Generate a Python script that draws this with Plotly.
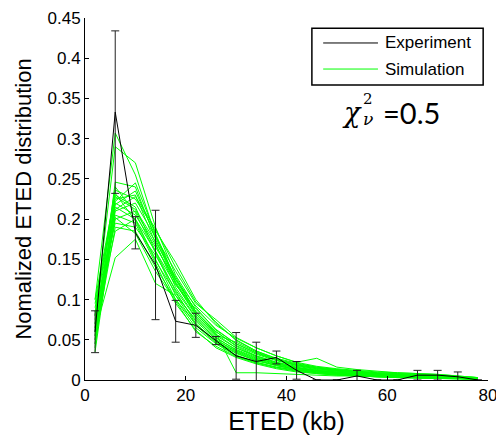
import plotly.graph_objects as go

x_vals = [2, 6, 10, 14, 18, 22, 26, 30, 34, 38, 42, 46, 50, 54, 58, 62, 66, 70, 74, 78]

exp_vals = [0.060, 0.333, 0.183, 0.143, 0.073, 0.068, 0.049, 0.030, 0.023, 0.028,
            0.012, 0.000, 0.000, 0.005, 0.000, 0.000, 0.006, 0.006, 0.004, 0.000]
exp_err = [0.026, 0.101, 0.020, 0.068, 0.026, 0.015, 0.005, 0.029, 0.024, 0.008,
           0.011, 0.000, 0.000, 0.007, 0.000, 0.000, 0.006, 0.006, 0.006, 0.000]

sim_1 = [0.100, 0.307, 0.255, 0.180, 0.125, 0.085, 0.060, 0.042, 0.030, 0.022, 0.017, 0.013, 0.011, 0.009, 0.007, 0.006, 0.005, 0.004, 0.003, 0.002]
sim_2 = [0.080, 0.290, 0.270, 0.190, 0.130, 0.090, 0.062, 0.045, 0.033, 0.025, 0.019, 0.015, 0.012, 0.010, 0.008, 0.006, 0.005, 0.004, 0.003, 0.002]
sim_3 = [0.050, 0.246, 0.240, 0.175, 0.120, 0.080, 0.055, 0.040, 0.030, 0.022, 0.016, 0.012, 0.010, 0.008, 0.006, 0.005, 0.004, 0.003, 0.003, 0.002]
sim_4 = [0.070, 0.236, 0.225, 0.185, 0.146, 0.100, 0.070, 0.050, 0.036, 0.026, 0.020, 0.016, 0.013, 0.011, 0.009, 0.008, 0.007, 0.006, 0.004, 0.003]
sim_5 = [0.040, 0.230, 0.215, 0.160, 0.110, 0.070, 0.048, 0.034, 0.024, 0.018, 0.013, 0.010, 0.008, 0.006, 0.005, 0.004, 0.003, 0.003, 0.002, 0.001]
sim_6 = [0.060, 0.225, 0.230, 0.170, 0.115, 0.078, 0.053, 0.037, 0.027, 0.020, 0.015, 0.012, 0.010, 0.008, 0.007, 0.006, 0.005, 0.004, 0.003, 0.002]
sim_7 = [0.090, 0.220, 0.205, 0.165, 0.125, 0.092, 0.068, 0.052, 0.040, 0.030, 0.022, 0.027, 0.016, 0.013, 0.011, 0.009, 0.008, 0.007, 0.005, 0.003]
sim_8 = [0.055, 0.215, 0.200, 0.150, 0.100, 0.065, 0.045, 0.030, 0.022, 0.016, 0.012, 0.009, 0.007, 0.006, 0.005, 0.004, 0.003, 0.002, 0.002, 0.001]
sim_9 = [0.075, 0.210, 0.220, 0.178, 0.135, 0.095, 0.075, 0.053, 0.040, 0.030, 0.022, 0.017, 0.014, 0.012, 0.010, 0.009, 0.008, 0.007, 0.005, 0.003]
sim_10 = [0.045, 0.205, 0.195, 0.145, 0.095, 0.062, 0.040, 0.028, 0.020, 0.014, 0.010, 0.008, 0.006, 0.005, 0.004, 0.003, 0.003, 0.002, 0.002, 0.001]
sim_11 = [0.065, 0.200, 0.210, 0.168, 0.120, 0.082, 0.057, 0.040, 0.029, 0.021, 0.015, 0.012, 0.009, 0.008, 0.006, 0.005, 0.005, 0.004, 0.003, 0.002]
sim_12 = [0.085, 0.195, 0.190, 0.155, 0.112, 0.077, 0.050, 0.036, 0.026, 0.019, 0.014, 0.011, 0.009, 0.007, 0.006, 0.005, 0.004, 0.004, 0.003, 0.002]
sim_13 = [0.050, 0.190, 0.185, 0.140, 0.100, 0.070, 0.047, 0.033, 0.024, 0.018, 0.013, 0.010, 0.008, 0.006, 0.005, 0.004, 0.003, 0.002, 0.002, 0.001]
sim_14 = [0.070, 0.185, 0.200, 0.160, 0.118, 0.088, 0.063, 0.045, 0.034, 0.025, 0.019, 0.015, 0.012, 0.010, 0.008, 0.007, 0.006, 0.005, 0.004, 0.003]
sim_15 = [0.060, 0.152, 0.175, 0.120, 0.105, 0.075, 0.052, 0.038, 0.028, 0.020, 0.015, 0.011, 0.009, 0.007, 0.005, 0.004, 0.003, 0.003, 0.002, 0.002]
sim_16 = [0.095, 0.228, 0.212, 0.172, 0.128, 0.085, 0.058, 0.009, 0.009, 0.008, 0.007, 0.006, 0.005, 0.005, 0.004, 0.004, 0.003, 0.003, 0.002, 0.001]
sim_17 = [0.045, 0.222, 0.245, 0.182, 0.125, 0.085, 0.060, 0.043, 0.032, 0.024, 0.018, 0.014, 0.012, 0.010, 0.008, 0.007, 0.006, 0.005, 0.004, 0.002]
sim_18 = [0.080, 0.240, 0.208, 0.158, 0.105, 0.068, 0.046, 0.031, 0.022, 0.016, 0.012, 0.009, 0.007, 0.005, 0.004, 0.003, 0.003, 0.002, 0.002, 0.001]
sim_19 = [0.035, 0.212, 0.228, 0.188, 0.140, 0.097, 0.072, 0.049, 0.036, 0.027, 0.021, 0.016, 0.013, 0.011, 0.009, 0.008, 0.007, 0.006, 0.004, 0.002]
sim_20 = [0.100, 0.232, 0.198, 0.148, 0.108, 0.073, 0.050, 0.035, 0.025, 0.018, 0.013, 0.010, 0.008, 0.006, 0.005, 0.004, 0.003, 0.003, 0.002, 0.001]
sim_21 = [0.055, 0.202, 0.182, 0.135, 0.098, 0.060, 0.042, 0.029, 0.021, 0.015, 0.011, 0.008, 0.006, 0.005, 0.004, 0.003, 0.002, 0.002, 0.001, 0.001]
sim_22 = [0.065, 0.218, 0.235, 0.178, 0.122, 0.083, 0.056, 0.047, 0.035, 0.025, 0.018, 0.014, 0.011, 0.009, 0.007, 0.006, 0.005, 0.004, 0.003, 0.002]

sims = [sim_1, sim_2, sim_3, sim_4, sim_5, sim_6, sim_7, sim_8, sim_9, sim_10, sim_11,
        sim_12, sim_13, sim_14, sim_15, sim_16, sim_17, sim_18, sim_19, sim_20, sim_21, sim_22]

x_ticks = [0, 20, 40, 60, 80]
y_ticks = [0, 0.05, 0.1, 0.15, 0.2, 0.25, 0.3, 0.35, 0.4, 0.45]
y_tick_text = ["0", "0.05", "0.1", "0.15", "0.2", "0.25", "0.3", "0.35", "0.4", "0.45"]

legend_labels = ["Experiment", "Simulation"]
legend_colors = ["black", "#00FF00"]

FONT = "Liberation Sans, Arial, sans-serif"
SIM_COLOR = "#00FF00"

fig = go.Figure()

for s in sims:
    fig.add_trace(go.Scatter(
        x=x_vals, y=s, mode="lines",
        line=dict(color=SIM_COLOR, width=1),
        name="Simulation", showlegend=False, hoverinfo="skip",
    ))

fig.add_trace(go.Scatter(
    x=x_vals, y=exp_vals, mode="lines",
    line=dict(color="black", width=1),
    error_y=dict(type="data", array=exp_err, color="#222222", thickness=1, width=4),
    name="Experiment", showlegend=False,
))

fig.update_layout(
    width=496, height=436,
    margin=dict(l=85, r=8, t=18, b=56),
    paper_bgcolor="white", plot_bgcolor="white",
    font=dict(family=FONT, color="black", size=17),
    showlegend=False,
    xaxis=dict(
        range=[0, 80], tickvals=x_ticks, ticks="inside", ticklen=4,
        tickcolor="black", showline=True, linecolor="black", linewidth=1,
        showgrid=False, zeroline=False, ticklabeloverflow="allow", automargin=False,
        tickfont=dict(family=FONT, size=17),
        title=dict(text="ETED (kb)", font=dict(family=FONT, size=25), standoff=8),
    ),
    yaxis=dict(
        range=[0, 0.45], tickvals=y_ticks, ticktext=y_tick_text, ticks="inside",
        ticklen=4, tickcolor="black", showline=True, linecolor="black", linewidth=1,
        showgrid=False, zeroline=False, automargin=False,
        tickfont=dict(family=FONT, size=17),
        title=dict(text="Nomalized ETED distribution", font=dict(family=FONT, size=22), standoff=9),
    ),
)

# Legend box drawn in paper coordinates
box_x0, box_x1, box_y0, box_y1 = 0.563, 0.988, 0.815, 0.972
fig.add_shape(type="rect", xref="paper", yref="paper",
              x0=box_x0, x1=box_x1, y0=box_y0, y1=box_y1,
              line=dict(color="black", width=1.5), fillcolor="white", layer="above")
row_y = [0.931, 0.859]
for lbl, col, ry in zip(legend_labels, legend_colors, row_y):
    fig.add_shape(type="line", xref="paper", yref="paper",
                  x0=0.591, x1=0.727, y0=ry, y1=ry,
                  line=dict(color=col, width=1), layer="above")
    fig.add_annotation(xref="paper", yref="paper", x=0.740, y=ry,
                       xanchor="left", yanchor="middle", text=lbl, showarrow=False,
                       font=dict(family=FONT, size=17, color="black"))

fig.add_annotation(
    xref="paper", yref="paper", x=0.632, y=0.738, xanchor="left", yanchor="middle",
    text="<i>χ</i>", showarrow=False,
    font=dict(family="DejaVu Serif, serif", size=27, color="black"),
)
fig.add_annotation(
    xref="paper", yref="paper", x=0.685, y=0.777, xanchor="left", yanchor="middle",
    text="2", showarrow=False,
    font=dict(family="DejaVu Serif, serif", size=15, color="black"),
)
fig.add_annotation(
    xref="paper", yref="paper", x=0.685, y=0.72, xanchor="left", yanchor="middle",
    text="<i>ν</i>", showarrow=False,
    font=dict(family="DejaVu Serif, serif", size=17, color="black"),
)
fig.add_annotation(
    xref="paper", yref="paper", x=0.735, y=0.738, xanchor="left", yanchor="middle",
    text="=0.5", showarrow=False,
    font=dict(family="Lato, sans-serif", size=29, color="black"),
)

fig.write_html("out.html")
